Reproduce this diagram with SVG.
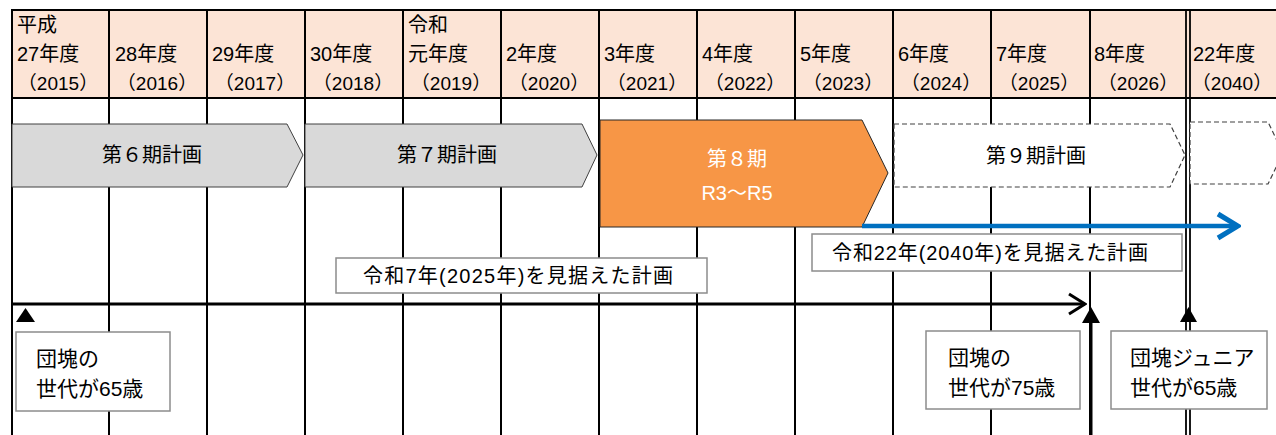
<svg xmlns="http://www.w3.org/2000/svg" width="1276" height="435" viewBox="0 0 1276 435">
<style>
  text { font-family: "Liberation Sans", "Noto Sans CJK JP", sans-serif; fill: #000; }
  .hd { font-size: 20px; }
  .yr { font-size: 19px; text-anchor: middle; }
  .lbl { font-size: 20px; text-anchor: middle; }
  .box { fill: #fff; stroke: #8c8c8c; stroke-width: 1.5; }
  .grid { stroke: #000; stroke-width: 2; fill: none; }
  .bx { font-size: 21px; }
</style>
<defs>
  <marker id="openBlk" markerWidth="20" markerHeight="24" refX="18" refY="12" orient="auto" markerUnits="userSpaceOnUse">
    <path d="M2,2 L18,12 L2,22" fill="none" stroke="#000" stroke-width="3"/>
  </marker>
  <marker id="openBlue" markerWidth="26" markerHeight="30" refX="23" refY="15" orient="auto" markerUnits="userSpaceOnUse">
    <path d="M3,3 L23,15 L3,27" fill="none" stroke="#0070C0" stroke-width="5"/>
  </marker>
</defs>
<rect width="1276" height="435" fill="#fff"/>
<g id="header">
  <rect x="11" y="10" width="1265" height="88" fill="#FCE4D6"/>
</g>
<g id="grid" class="grid">
  <line x1="11" y1="10" x2="1276" y2="10"/>
  <line x1="11" y1="98" x2="1276" y2="98"/>
  <line x1="12" y1="10" x2="12" y2="435"/>
  <line x1="109" y1="10" x2="109" y2="435"/>
  <line x1="207" y1="10" x2="207" y2="435"/>
  <line x1="305" y1="10" x2="305" y2="435"/>
  <line x1="403" y1="10" x2="403" y2="435"/>
  <line x1="501" y1="10" x2="501" y2="435"/>
  <line x1="599" y1="10" x2="599" y2="435"/>
  <line x1="697" y1="10" x2="697" y2="435"/>
  <line x1="795" y1="10" x2="795" y2="435"/>
  <line x1="893" y1="10" x2="893" y2="435"/>
  <line x1="991" y1="10" x2="991" y2="435"/>
  <line x1="1090" y1="10" x2="1090" y2="435"/>
  <line x1="1186" y1="10" x2="1186" y2="435" stroke-width="1.8"/>
  <line x1="1190" y1="10" x2="1190" y2="435" stroke-width="1.8"/>
</g>
<g id="header-text">
  <text class="hd" x="17" y="32">平成</text>
  <text class="hd" x="17" y="61">27年度</text>
  <text class="hd" x="115" y="61">28年度</text>
  <text class="hd" x="212" y="61">29年度</text>
  <text class="hd" x="310" y="61">30年度</text>
  <text class="hd" x="408" y="32">令和</text>
  <text class="hd" x="408" y="61">元年度</text>
  <text class="hd" x="506" y="61">2年度</text>
  <text class="hd" x="604" y="61">3年度</text>
  <text class="hd" x="702" y="61">4年度</text>
  <text class="hd" x="800" y="61">5年度</text>
  <text class="hd" x="898" y="61">6年度</text>
  <text class="hd" x="996" y="61">7年度</text>
  <text class="hd" x="1094" y="61">8年度</text>
  <text class="hd" x="1193" y="61">22年度</text>
  <text class="yr" x="58" y="90">（2015）</text>
  <text class="yr" x="157" y="90">（2016）</text>
  <text class="yr" x="255" y="90">（2017）</text>
  <text class="yr" x="353" y="90">（2018）</text>
  <text class="yr" x="451" y="90">（2019）</text>
  <text class="yr" x="549" y="90">（2020）</text>
  <text class="yr" x="647" y="90">（2021）</text>
  <text class="yr" x="745" y="90">（2022）</text>
  <text class="yr" x="843" y="90">（2023）</text>
  <text class="yr" x="941" y="90">（2024）</text>
  <text class="yr" x="1039" y="90">（2025）</text>
  <text class="yr" x="1138" y="90">（2026）</text>
  <text class="yr" x="1232" y="90">（2040）</text>
</g>
<g id="plan6">
  <polygon points="12,124 287,124 303,155 287,187 12,187" fill="#D9D9D9" stroke="#404040" stroke-width="1"/>
  <text class="lbl" x="152" y="162">第６期計画</text>
</g>
<g id="plan7">
  <polygon points="305,124 582,124 597,155 582,187 305,187" fill="#D9D9D9" stroke="#404040" stroke-width="1"/>
  <text class="lbl" x="447" y="162">第７期計画</text>
</g>
<g id="plan8">
  <polygon points="600,120 862,120 888,173 862,227 600,227" fill="#F79646" stroke="#262626" stroke-width="1"/>
  <text class="lbl" x="737" y="166" style="fill:#fff">第８期</text>
  <text class="lbl" x="737" y="200" style="fill:#fff">R3～R5</text>
</g>
<g id="plan9">
  <polygon points="894,124 1170,124 1185,155 1170,187 894,187" fill="#fff" stroke="#404040" stroke-width="1.2" stroke-dasharray="5,3"/>
  <text class="lbl" x="1036" y="163">第９期計画</text>
</g>
<g id="plan10">
  <polygon points="1190,122 1268,122 1283,153 1268,184 1190,184" fill="#fff" stroke="#404040" stroke-width="1.2" stroke-dasharray="5,3"/>
</g>
<g id="connectors">
  <line x1="862" y1="226" x2="1238" y2="226" stroke="#0070C0" stroke-width="4.5" marker-end="url(#openBlue)"/>
  <line x1="12" y1="304" x2="1085" y2="304" stroke="#000" stroke-width="3" marker-end="url(#openBlk)"/>
  <line x1="1091" y1="435" x2="1091" y2="320" stroke="#000" stroke-width="3"/>
  <polygon points="16,322 25.5,308 35,322" fill="#000"/>
  <polygon points="1082,323 1091,307 1100,323" fill="#000"/>
  <polygon points="1180,322 1188.5,307 1197,322" fill="#000"/>
</g>
<g id="label2025">
  <rect class="box" x="336" y="258" width="371" height="35"/>
  <text class="bx" x="363" y="283" textLength="310" lengthAdjust="spacing" style="font-size:20px">令和7年(2025年)を見据えた計画</text>
</g>
<g id="label2040">
  <rect class="box" x="812" y="234" width="370" height="37"/>
  <text class="bx" x="832" y="260" textLength="316" lengthAdjust="spacing" style="font-size:20px">令和22年(2040年)を見据えた計画</text>
</g>
<g id="note65">
  <rect class="box" x="16" y="332" width="154" height="79"/>
  <text class="bx" x="36" y="366">団塊の</text>
  <text class="bx" x="36" y="396">世代が65歳</text>
</g>
<g id="note75">
  <rect class="box" x="926" y="331" width="154" height="78"/>
  <text class="bx" x="948" y="365">団塊の</text>
  <text class="bx" x="948" y="395">世代が75歳</text>
</g>
<g id="noteJr">
  <rect class="box" x="1111" y="331" width="156" height="78"/>
  <text class="bx" x="1130" y="365">団塊ジュニア</text>
  <text class="bx" x="1130" y="395">世代が65歳</text>
</g>
</svg>
